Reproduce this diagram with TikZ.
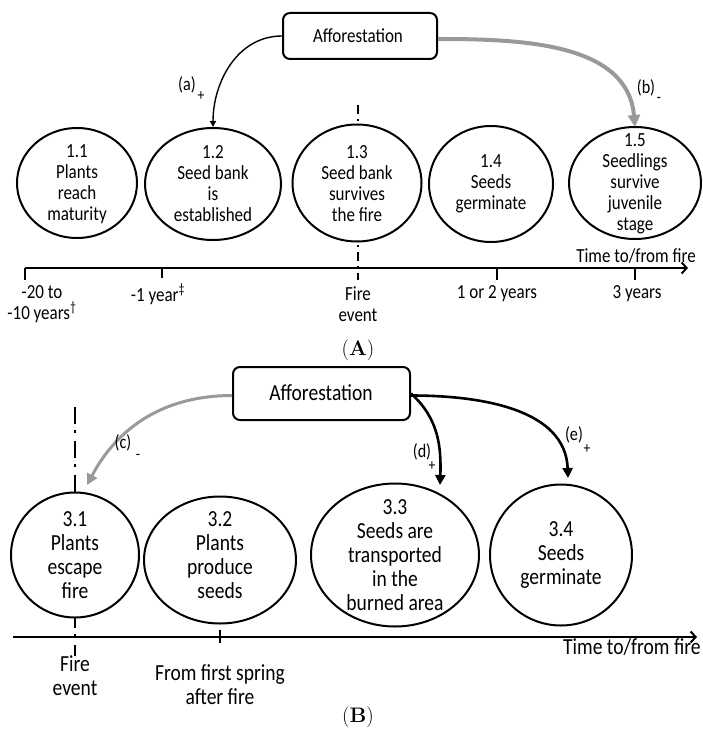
\documentclass[tikz,border=0pt]{standalone}
\usepackage{fontspec}
\newfontfamily\calib[FakeStretch=0.85]{Carlito}
\newfontfamily\lmcap[FakeStretch=0.85]{Latin Modern Roman}
\usetikzlibrary{shapes.geometric,arrows.meta}
\definecolor{arrgray}{HTML}{999999}
\begin{document}
\begin{tikzpicture}[x=1pt,y=-1pt,
  ellA/.style={draw, ellipse, line width=2pt, fill=white, inner sep=0pt},
  txtA/.style={font=\calib\fontsize{20}{21}\selectfont, align=center, inner sep=0pt},
  txtB/.style={font=\calib\fontsize{23}{24}\selectfont, align=center, inner sep=0pt},
  boxst/.style={draw, rounded corners=7pt, line width=2pt, fill=white, inner sep=0pt},
  axisln/.style={line width=2pt, -{Straight Barb[length=5pt,width=11pt,line width=2pt]}},
  tickln/.style={line width=1.6pt},
  fireA/.style={line width=2.6pt, dash pattern=on 9pt off 5pt on 2pt off 5pt},
  fireB/.style={line width=2.6pt, dash pattern=on 17pt off 6pt on 3pt off 8pt},
  lblsm/.style={font=\calib\fontsize{19}{20}\selectfont, inner sep=0pt},
  sgn/.style={font=\calib\fontsize{16}{17}\selectfont, inner sep=0pt},
  thinarr/.style={line width=1.4pt, -{Triangle[length=6pt,width=6pt]}},
  grayarrB/.style={draw=arrgray, line width=4pt, -{Triangle[length=12pt,width=12pt]}},
  grayarrC/.style={draw=arrgray, line width=3pt, -{Triangle[length=11pt,width=11pt]}},
  blkarr/.style={line width=2.6pt, -{Triangle[length=10pt,width=10pt]}},
  capst/.style={font=\fontsize{21}{22}\selectfont, inner sep=0pt}
]
\useasboundingbox (0,0) rectangle (703,738);

% ================= Panel A =================
\coordinate (fA1) at (358,105);
\coordinate (fA2) at (358,280);
\draw[fireA] (fA1) -- (fA2);

\coordinate (axAs) at (25,268);
\coordinate (axAe) at (688,268);
\draw[axisln] (axAs) -- (axAe);
\draw[tickln] (25,268) -- (25,280);
\draw[tickln] (162,268) -- (162,278);
\draw[tickln] (497,268) -- (497,280);
\draw[tickln] (635,268) -- (635,280);

\node[ellA, minimum width=120pt, minimum height=110pt] (c11) at (77,183) {};
\node[ellA, minimum width=136pt, minimum height=112pt] (c12) at (213,184) {};
\node[ellA, minimum width=129pt, minimum height=117pt] (c13) at (357,183) {};
\node[ellA, minimum width=124pt, minimum height=116pt] (c14) at (491,184) {};
\node[ellA, minimum width=132pt, minimum height=112pt] (c15) at (635,183) {};

\node[txtA] (t11) at (77,184) {1.1\\Plants\\reach\\maturity};
\node[txtA] (t12) at (213,184) {1.2\\Seed bank\\is\\established};
\node[txtA] (t13) at (357,184) {1.3\\Seed bank\\survives\\the fire};
\node[txtA] (t14) at (491,184) {1.4\\Seeds\\germinate};
\node[txtA] (t15) at (635,184) {1.5\\Seedlings\\survive\\juvenile\\stage};

\node[boxst, minimum width=154pt, minimum height=46pt] (boxA) at (360,36) {};
\node[txtA] (boxAt) at (358,36) {Afforestation};

\draw[thinarr] (boxA.west) to[out=180,in=90] (c12.north);
\draw[grayarrB] ([yshift=-3pt]boxA.east) to[out=0,in=95] ([yshift=-1pt]c15.north);

\node[lblsm] (la) at (187,85) {(a)};
\node[sgn] (pa) at (201,96) {+};
\node[lblsm] (lb) at (646,88) {(b)};
\node[sgn] (mb) at (659,100) {-};

\node[txtA] (xa1) at (42,304) {-20 to\\-10 years\textsuperscript{†}};
\node[txtA] (xa2) at (158,294) {-1 year\textsuperscript{‡}};
\node[txtA] (xa3) at (358,304) {Fire\\event};
\node[txtA] (xa4) at (497,294) {1 or 2 years};
\node[txtA] (xa5) at (637,294) {3 years};
\node[txtA] (timeA) at (636,256) {Time to/from fire};

\node[capst] (capA) at (358,350) {(\textbf{A})};

% ================= Panel B =================
\coordinate (fB1) at (75,407);
\coordinate (fB2) at (75,656);
\draw[fireB] (fB1) -- (fB2);

\coordinate (axBs) at (13,637);
\coordinate (axBe) at (697,637);
\draw[axisln] (axBs) -- (axBe);
\draw[tickln] (220,630) -- (220,643);

\node[ellA, minimum width=128pt, minimum height=125pt] (c31) at (75,555) {};
\node[ellA, minimum width=152pt, minimum height=127pt] (c32) at (220,560) {};
\node[ellA, minimum width=168pt, minimum height=143pt] (c33) at (395,555) {};
\node[ellA, minimum width=142pt, minimum height=141pt] (c34) at (561,555) {};

\node[txtB] (t31) at (75,555) {3.1\\Plants\\escape\\fire};
\node[txtB] (t32) at (220,555) {3.2\\Plants\\produce\\seeds};
\node[txtB] (t33) at (395,555) {3.3\\Seeds are\\transported\\in the\\burned area};
\node[txtB] (t34) at (561,555) {3.4\\Seeds\\germinate};

\node[boxst, minimum width=177pt, minimum height=53pt] (boxB) at (321.5,393.5) {};
\node[txtB] (boxBt) at (321,393) {Afforestation};

\coordinate (endC) at (87,485);
\coordinate (endD) at (440,485);
\coordinate (endE) at (568,478);
\draw[grayarrC] ([yshift=-2pt]boxB.west) to[out=180,in=62] (endC);
\draw[blkarr] ([yshift=0pt]boxB.east) to[out=-42,in=88] (endD);
\draw[blkarr] ([yshift=-2pt]boxB.east) to[out=0,in=92] (endE);

\node[lblsm] (lc) at (123,443) {(c)};
\node[sgn] (mc) at (138,457) {-};
\node[lblsm] (ld) at (422,452) {(d)};
\node[sgn] (pd) at (432,466) {+};
\node[lblsm] (le) at (574,435) {(e)};
\node[sgn] (pe) at (587,449) {+};

\node[txtB] (xb1) at (75,676) {Fire\\event};
\node[txtB] (xb2) at (220,685) {From first spring\\after fire};
\node[txtB, anchor=west] (timeB) at (563,647) {Time to/from fire};

\node[capst] (capB) at (358,717) {(\textbf{B})};
\end{tikzpicture}
\end{document}
